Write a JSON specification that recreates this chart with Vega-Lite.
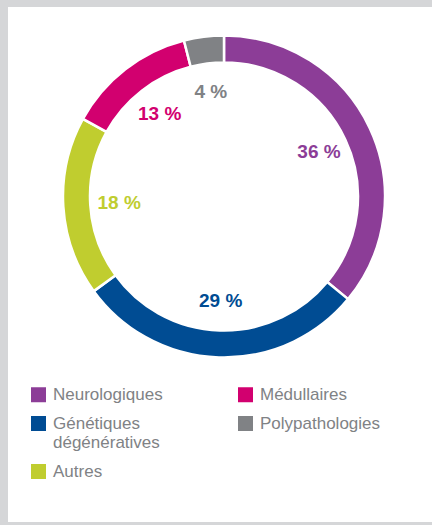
{
  "$schema": "https://vega.github.io/schema/vega-lite/v6.json",
  "width": 424,
  "height": 515,
  "autosize": {"type": "none"},
  "padding": {"left": 8, "top": 7, "right": 0, "bottom": 3},
  "background": "#d5d6d8",
  "view": {"fill": "white", "stroke": null},
  "config": {"font": "Liberation Sans"},
  "data": {"values": [
    {"cat": "Neurologiques", "value": 36, "rank": 1, "label": "36 %"},
    {"cat": "Génétiques dégénératives", "value": 29, "rank": 2, "label": "29 %"},
    {"cat": "Autres", "value": 18, "rank": 3, "label": "18 %"},
    {"cat": "Médullaires", "value": 13, "rank": 4, "label": "13 %"},
    {"cat": "Polypathologies", "value": 4, "rank": 5, "label": "4 %"}
  ]},
  "encoding": {
    "theta": {"field": "value", "type": "quantitative", "stack": true},
    "order": {"field": "rank", "type": "quantitative"},
    "color": {
      "field": "cat", "type": "nominal",
      "scale": {
        "domain": ["Neurologiques", "Génétiques dégénératives", "Autres", "Médullaires", "Polypathologies"],
        "range": ["#8c3d97", "#004c93", "#c0cd2f", "#d2006f", "#808285"]
      },
      "legend": {
        "orient": "none", "legendX": 22, "legendY": 379,
        "columns": 2, "title": null,
        "symbolType": "square", "symbolSize": 225, "symbolOpacity": 1, "symbolStrokeWidth": 0,
        "labelFontSize": 17, "labelColor": "#808285", "labelFont": "Liberation Sans",
        "labelLimit": 300, "columnPadding": 74, "rowPadding": 11, "labelOffset": 6,
        "labelExpr": "datum.label == 'Génétiques dégénératives' ? ['Génétiques', 'dégénératives'] : datum.label"
      }
    }
  },
  "layer": [
    {"mark": {"type": "arc", "outerRadius": 161, "innerRadius": 134, "stroke": "white", "strokeWidth": 2.5, "xOffset": 4, "yOffset": -68}},
    {"mark": {"type": "text", "radius": 105, "fontWeight": "bold", "fontSize": 19, "xOffset": 4, "yOffset": -68}, "encoding": {"text": {"field": "label"}}}
  ]
}
